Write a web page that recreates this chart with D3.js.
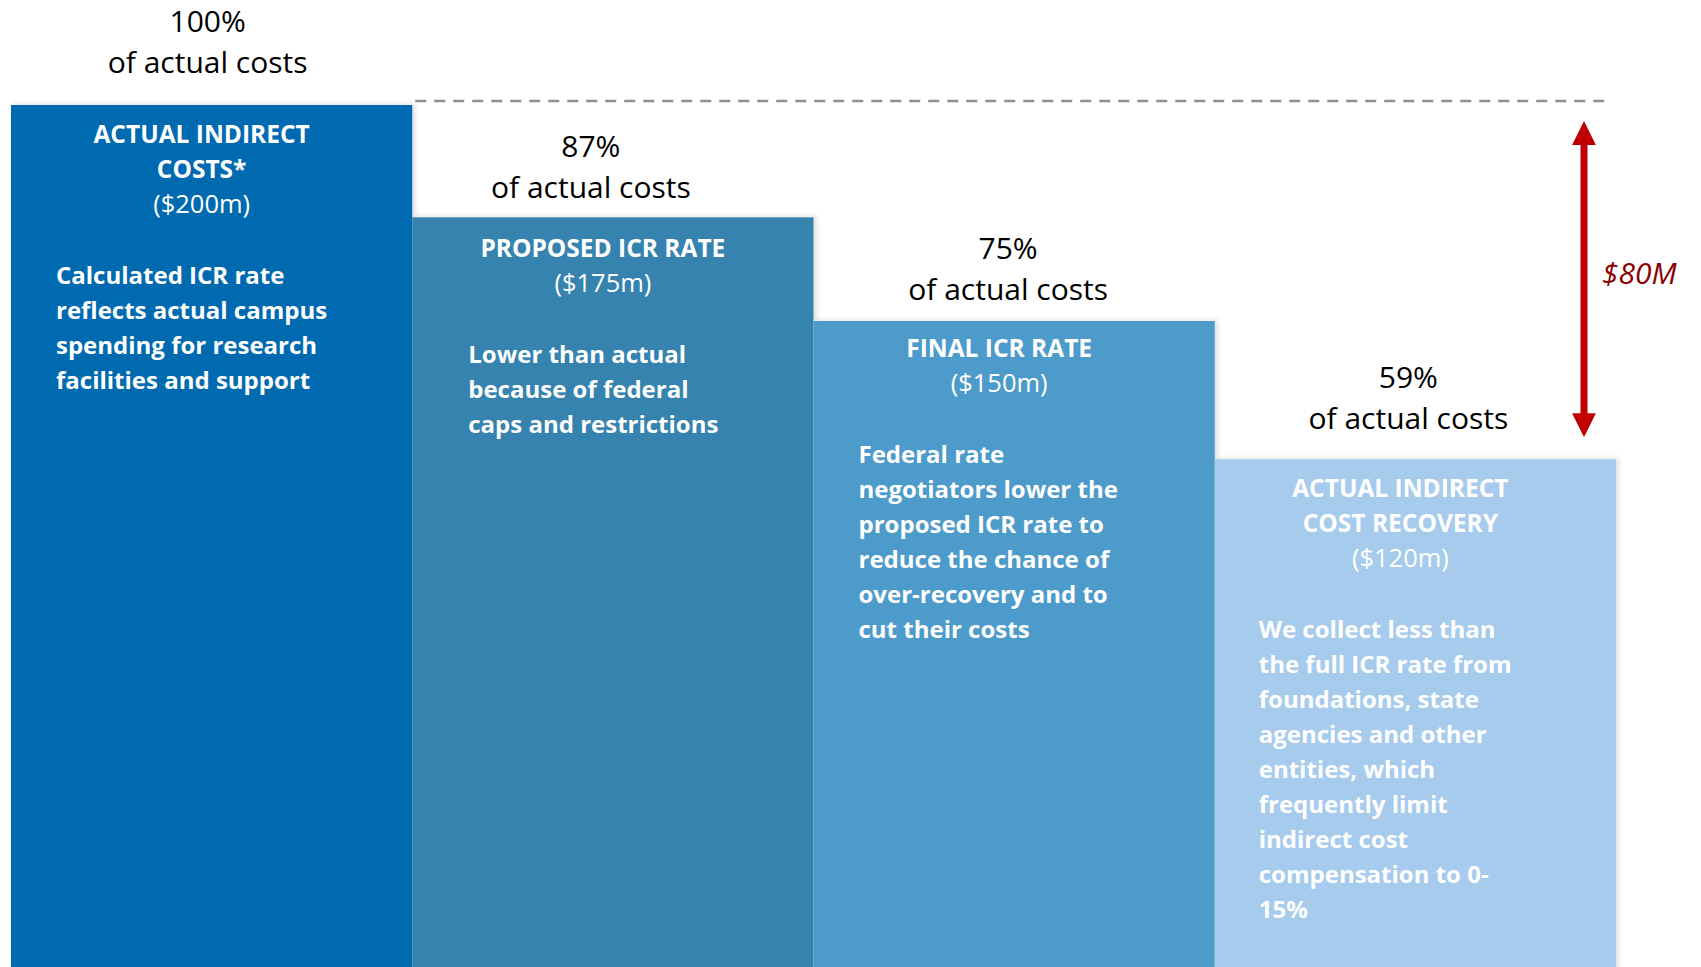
<!DOCTYPE html>
<html>
<head>
<meta charset="utf-8">
<script src="https://cdn.jsdelivr.net/npm/d3@7"></script>
<style>
  html, body { margin: 0; padding: 0; background: #fff; }
  svg { display: block; }
</style>
</head>
<body>
<svg id="chart"></svg>
<script>
const WIDTH = 1701;
const HEIGHT = 967;

// data
const categories = ['actual', 'proposed', 'final', 'recovery'];
const percents = [100, 87, 75, 59];
const amounts = [200, 175, 150, 120];
const titles = [
  ['ACTUAL INDIRECT', 'COSTS*'],
  ['PROPOSED ICR RATE'],
  ['FINAL ICR RATE'],
  ['ACTUAL INDIRECT', 'COST RECOVERY'],
];
const descriptions = [
  ['Calculated ICR rate', 'reflects actual campus', 'spending for research', 'facilities and support'],
  ['Lower than actual', 'because of federal', 'caps and restrictions'],
  ['Federal rate', 'negotiators lower the', 'proposed ICR rate to', 'reduce the chance of', 'over-recovery and to', 'cut their costs'],
  ['We collect less than', 'the full ICR rate from', 'foundations, state', 'agencies and other', 'entities, which', 'frequently limit', 'indirect cost', 'compensation to 0-', '15%'],
];
const gapLabel = '$80M';

// layout
const barColors = ['#066ab0', '#3683ae', '#4e9bca', '#a6cbec'];
const labelGap = [32, 19, 21, 30];
const titleShift = [-10, -10, -15, -15];
const titleDrop = [38, 40, 36, 38];
const labelShift = [-4, -22, -6, -7];
const bodyIndent = [45, 56, 45, 44];
const LINE = 35;
const FONT = "'Open Sans', sans-serif";

const svg = d3.select('#chart')
  .attr('width', WIDTH)
  .attr('height', HEIGHT);

const x = d3.scaleBand()
  .domain(categories)
  .range([11, 1616])
  .padding(0);

const y = d3.scaleLinear()
  .domain([0, 100])
  .range([HEIGHT + 2, 105]);

const defs = svg.append('defs');
defs.append('filter')
  .attr('id', 'shadow')
  .attr('x', '-5%').attr('y', '-5%')
  .attr('width', '110%').attr('height', '110%')
  .append('feDropShadow')
  .attr('dx', 3).attr('dy', -1)
  .attr('stdDeviation', 2.5)
  .attr('flood-color', '#000')
  .attr('flood-opacity', 0.12);

defs.append('marker')
  .attr('id', 'head')
  .attr('viewBox', '0 0 10 10')
  .attr('refX', 5).attr('refY', 5)
  .attr('markerWidth', 3.4).attr('markerHeight', 3.4)
  .attr('orient', 'auto-start-reverse')
  .attr('markerUnits', 'strokeWidth')
  .append('path')
  .attr('d', 'M0,0 L10,5 L0,10 Z')
  .attr('fill', '#c00000');

const rows = categories.map((c, i) => ({
  key: c,
  pct: percents[i],
  amount: amounts[i],
  title: titles[i],
  body: descriptions[i],
  i,
}));

// dashed 100% reference line
svg.append('line')
  .attr('x1', x(categories[1]) + 3)
  .attr('x2', 1606)
  .attr('y1', y(100) - 4)
  .attr('y2', y(100) - 4)
  .attr('stroke', '#8f8f8f')
  .attr('stroke-width', 2.5)
  .attr('stroke-dasharray', '11 8');

// bars
svg.selectAll('rect.bar')
  .data(rows)
  .enter()
  .append('rect')
  .attr('class', 'bar')
  .attr('x', d => x(d.key))
  .attr('width', x.bandwidth())
  .attr('y', d => y(d.pct))
  .attr('height', d => HEIGHT - y(d.pct) + 5)
  .attr('fill', d => barColors[d.i])
  .attr('filter', 'url(#shadow)');

// percent labels above bars
const pctLabels = svg.selectAll('text.pct')
  .data(rows)
  .enter()
  .append('text')
  .attr('class', 'pct')
  .attr('text-anchor', 'middle')
  .attr('font-family', FONT)
  .attr('font-size', 30)
  .attr('fill', '#000');

pctLabels.append('tspan')
  .attr('x', d => x(d.key) + x.bandwidth() / 2 + labelShift[d.i])
  .attr('y', d => y(d.pct) - labelGap[d.i] - 41)
  .text(d => `${d.pct}%`);

pctLabels.append('tspan')
  .attr('x', d => x(d.key) + x.bandwidth() / 2 + labelShift[d.i])
  .attr('y', d => y(d.pct) - labelGap[d.i])
  .text('of actual costs');

// titles and amounts inside bars
const titleTexts = svg.selectAll('text.title')
  .data(rows)
  .enter()
  .append('text')
  .attr('class', 'title')
  .attr('text-anchor', 'middle')
  .attr('font-family', FONT)
  .attr('font-size', 24.5)
  .attr('fill', '#fff');

titleTexts.each(function (d) {
  const t = d3.select(this);
  const cx = x(d.key) + x.bandwidth() / 2 + titleShift[d.i];
  const top = y(d.pct) + titleDrop[d.i];
  d.title.forEach((line, k) => {
    t.append('tspan')
      .attr('x', cx)
      .attr('y', top + k * LINE)
      .attr('font-weight', 700)
      .text(line);
  });
  t.append('tspan')
    .attr('x', cx)
    .attr('y', top + d.title.length * LINE)
    .attr('font-weight', 400)
    .attr('font-size', 25.5)
    .text(`($${d.amount}m)`);
  d.bodyTop = top + d.title.length * LINE + 71;
});

// descriptions
svg.selectAll('text.body')
  .data(rows)
  .enter()
  .append('text')
  .attr('class', 'body')
  .attr('font-family', FONT)
  .attr('font-size', 24)
  .attr('font-weight', 700)
  .attr('fill', '#fff')
  .each(function (d) {
    const t = d3.select(this);
    d.body.forEach((line, k) => {
      t.append('tspan')
        .attr('x', x(d.key) + bodyIndent[d.i])
        .attr('y', d.bodyTop + k * LINE)
        .text(line);
    });
  });

// $80M gap arrow
const arrowX = x.range()[1] - 32;
svg.append('line')
  .attr('x1', arrowX)
  .attr('x2', arrowX)
  .attr('y1', y(100) + 28)
  .attr('y2', y(percents[3]) - 34)
  .attr('stroke', '#c00000')
  .attr('stroke-width', 7)
  .attr('marker-start', 'url(#head)')
  .attr('marker-end', 'url(#head)');

svg.append('text')
  .attr('x', arrowX + 18)
  .attr('y', (y(100) + y(percents[3])) / 2 + 2)
  .attr('font-family', FONT)
  .attr('font-style', 'italic')
  .attr('font-size', 30)
  .attr('fill', '#8b0000')
  .text(gapLabel);
</script>
</body>
</html>
